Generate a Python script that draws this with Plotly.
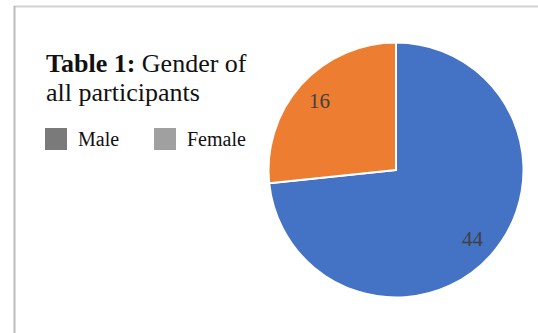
import math
import plotly.graph_objects as go

labels = ["Male", "Female"]
values = [44, 16]
slice_colors = ["#4472C4", "#ED7D31"]
legend_colors = ["#7a7a7a", "#a0a0a0"]
title_bold = "Table 1:"
title_rest = "Gender of"
title_line2 = "all participants"

W, H = 538, 333
SERIF = "Liberation Serif, Times New Roman, serif"

def px(x):
    return x / W

def py(y):
    return 1 - y / H

# pie placement (pixels)
CX, CY, R = 396, 170, 127.5

fig = go.Figure(go.Pie(
    labels=labels,
    values=values,
    marker=dict(colors=slice_colors, line=dict(color="white", width=2)),
    sort=False,
    direction="clockwise",
    rotation=0,
    textinfo="none",
    showlegend=False,
    hoverinfo="label+value",
    domain=dict(x=[px(CX - R), px(CX + R)], y=[py(CY + R), py(CY - R)]),
))

shapes = [
    dict(type="line", xref="paper", yref="paper", x0=px(14), x1=1.01, y0=py(6.5), y1=py(6.5),
         line=dict(color="#d2d2d2", width=2)),
    dict(type="line", xref="paper", yref="paper", x0=px(14.5), x1=px(14.5), y0=py(6), y1=-0.01,
         line=dict(color="#bcbcbc", width=2)),
]
annotations = [
    dict(text=f"<b>{title_bold}</b> {title_rest}", x=px(44), y=py(80), xref="paper", yref="paper",
         xanchor="left", yanchor="bottom", showarrow=False,
         font=dict(family=SERIF, size=26, color="#111111")),
    dict(text=title_line2, x=px(44), y=py(109), xref="paper", yref="paper",
         xanchor="left", yanchor="bottom", showarrow=False,
         font=dict(family=SERIF, size=26, color="#111111")),
]
leg_x = [45, 154]
for i, lab in enumerate(labels):
    x0 = leg_x[i]
    shapes.append(dict(type="rect", xref="paper", yref="paper", x0=px(x0), x1=px(x0 + 22),
                       y0=py(150), y1=py(128), fillcolor=legend_colors[i], line=dict(width=0)))
    annotations.append(dict(text=lab, x=px(x0 + 31), y=py(139), xref="paper", yref="paper",
                            xanchor="left", yanchor="middle", showarrow=False,
                            font=dict(family=SERIF, size=20, color="#111111")))

# value labels placed at each slice's mid-angle (clockwise from 12 o'clock)
total = sum(values)
cum = 0
for v in values:
    mid = (cum + v / 2) / total * 2 * math.pi
    cum += v
    lx = CX + 0.81 * R * math.sin(mid)
    ly = CY - 0.81 * R * math.cos(mid)
    annotations.append(dict(text=str(v), x=px(lx), y=py(ly), xref="paper", yref="paper",
                            xanchor="center", yanchor="middle", showarrow=False,
                            font=dict(family=SERIF, size=21, color="#404040")))

fig.update_layout(
    width=W, height=H,
    margin=dict(l=0, r=0, t=0, b=0),
    paper_bgcolor="white",
    shapes=shapes,
    annotations=annotations,
)
fig.write_html("out.html", config={"displayModeBar": False},
               post_script="document.body.style.margin='0';document.body.style.overflow='hidden';")
